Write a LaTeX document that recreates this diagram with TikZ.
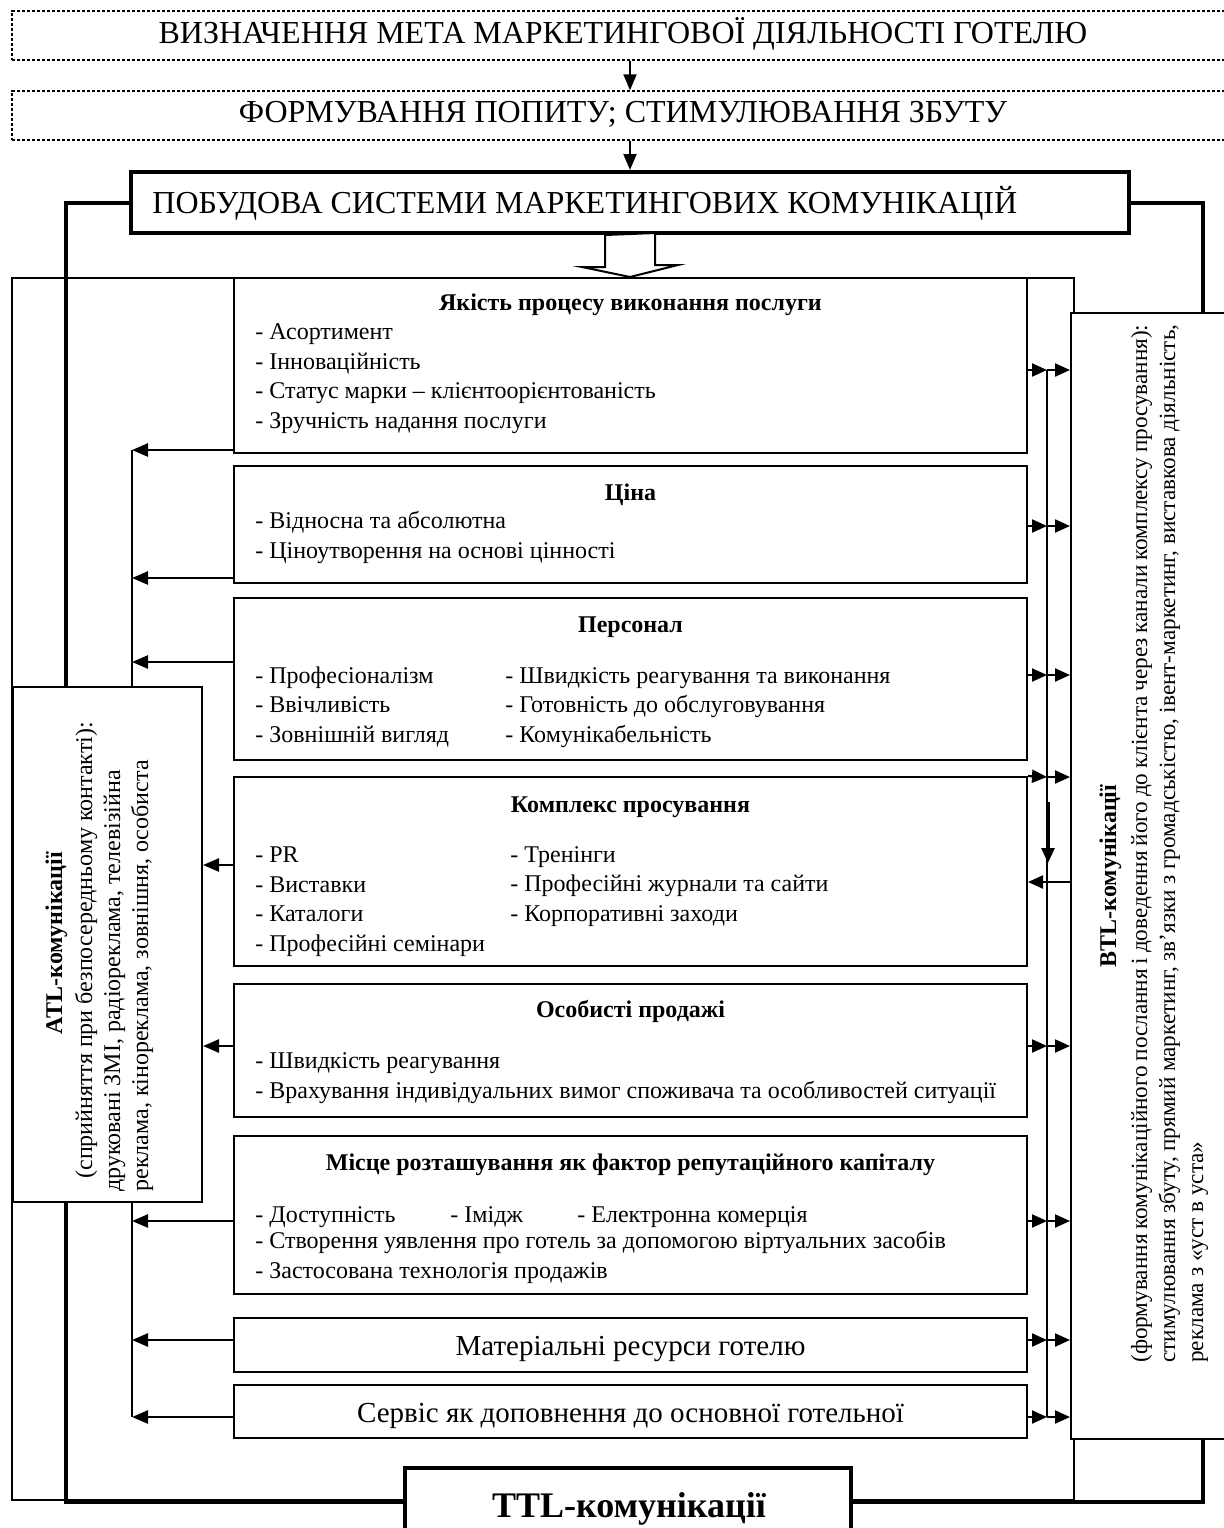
\documentclass[tikz,border=0pt]{standalone}
\usepackage{fontspec}
\setmainfont{Liberation Serif}
\usepackage{tikz}
\usetikzlibrary{arrows.meta,positioning,fit,calc}

\begin{document}
\begin{tikzpicture}[
  x=0.5pt, y=-0.5pt,
  font=\fontsize{12}{14.7}\selectfont,
  dbox/.style={draw, dash pattern=on 1.6pt off 0.9pt, line width=0.7pt, inner sep=0pt},
  mbox/.style={draw, line width=2pt, fill=white, inner sep=0pt},
  cbox/.style={draw, line width=1pt, fill=white, inner sep=0pt},
  hd/.style={font=\fontsize{12}{14.7}\selectfont\bfseries, anchor=base, inner sep=0pt},
  itm/.style={anchor=base west, align=left, inner sep=0pt},
  big/.style={font=\fontsize{16}{19}\selectfont, anchor=base, inner sep=0pt},
  mid/.style={font=\fontsize{14.5}{17}\selectfont, anchor=base, inner sep=0pt},
  frame/.style={line width=1pt},
  heavy/.style={line width=2pt},
  arr/.style={-{Triangle[length=8pt,width=6.5pt]}, line width=1.3pt},
  arrs/.style={-{Triangle[length=7.5pt,width=6.5pt]}, line width=1.1pt},
  hollow/.style={draw, line width=1pt, fill=white}
]
\useasboundingbox (0,0) rectangle (1224,1528);

% thin outer frame
\draw[frame] (12,278) rectangle (1074,1500);

% top chain
\node[dbox, fit={(12,11) (1234,60)}] (goal) {};
\node[big] (goal-t) at (623,43) {ВИЗНАЧЕННЯ МЕТА МАРКЕТИНГОВОЇ ДІЯЛЬНОСТІ ГОТЕЛЮ};
\node[dbox, fit={(12,91) (1234,140)}] (demand) {};
\node[big] (demand-t) at (623,122) {ФОРМУВАННЯ ПОПИТУ; СТИМУЛЮВАННЯ ЗБУТУ};
\node[mbox, fit={(131,172) (1129,233)}] (pobud) {};
\node[big, anchor=base west] (pobud-t) at (152,213) {ПОБУДОВА СИСТЕМИ МАРКЕТИНГОВИХ КОМУНІКАЦІЙ};
\node[mbox, fit={(405,1468) (851,1536)}] (ttl) {};
\node[hd, font=\fontsize{18}{21}\selectfont\bfseries] (ttl-t) at (629,1517) {TTL-комунікації};

\draw[arr, line width=1pt] (goal.south -| pobud.north) -- (demand.north -| pobud.north);
\draw[arr, line width=1pt] (demand.south -| pobud.north) -- (pobud.north);

% heavy loop round the scheme
\coordinate (fl) at (66,800);
\coordinate (fr) at (1203,800);
\draw[heavy] (pobud.west) -| (fl) |- (ttl.west);
\draw[heavy] (pobud.east) -| (fr) |- (ttl.east);

% content blocks
\node[cbox, fit={(234,278) (1027,453)}] (q1) {};
\node[cbox, fit={(234,466) (1027,583)}] (q2) {};
\node[cbox, fit={(234,598) (1027,760)}] (q3) {};
\node[cbox, fit={(234,777) (1027,966)}] (q4) {};
\node[cbox, fit={(234,984) (1027,1117)}] (q5) {};
\node[cbox, fit={(234,1136) (1027,1294)}] (q6) {};
\node[cbox, fit={(234,1318) (1027,1372)}] (q7) {};
\node[cbox, fit={(234,1385) (1027,1438)}] (q8) {};

\draw[hollow] ($(pobud.south)+(-25,0)$) -- ++(0,32) -- ++(-23,0) -- (q1.north -| pobud.south)
  -- ++(48,-12) -- ++(-23,0) -- ++(0,-32) -- cycle;

% multi-line lists sit on the baseline of their last line
\node[hd] (q1-h) at (630.5,310) {Якість процесу виконання послуги};
\node[itm] (q1-a) at (255,428) {- Асортимент\\- Інноваційність\\- Статус марки -- клієнтоорієнтованість\\- Зручність надання послуги};
\node[hd] (q2-h) at (630.5,500) {Ціна};
\node[itm] (q2-a) at (255,558) {- Відносна та абсолютна\\- Ціноутворення на основі цінності};
\node[hd] (q3-h) at (630.5,632) {Персонал};
\node[itm] (q3-a) at (255,742) {- Професіоналізм\\- Ввічливість\\- Зовнішній вигляд};
\node[itm] (q3-b) at (505,742) {- Швидкість реагування та виконання\\- Готовність до обслуговування\\- Комунікабельність};
\node[hd] (q4-h) at (630.5,812) {Комплекс просування};
\node[itm] (q4-a) at (255,951) {- PR\\- Виставки\\- Каталоги\\- Професійні семінари};
\node[itm] (q4-b) at (510,921) {- Тренінги\\- Професійні журнали та сайти\\- Корпоративні заходи};
\node[hd] (q5-h) at (630.5,1017) {Особисті продажі};
\node[itm] (q5-a) at (255,1098) {- Швидкість реагування\\- Врахування індивідуальних вимог споживача та особливостей ситуації};
\node[hd] (q6-h) at (630.5,1170) {Місце розташування як фактор репутаційного капіталу};
\node[itm] (q6-a) at (255,1222) {- Доступність};
\node[itm] (q6-b) at (450,1222) {- Імідж};
\node[itm] (q6-c) at (577,1222) {- Електронна комерція};
\node[itm] (q6-d) at (255,1278) {- Створення уявлення про готель за допомогою віртуальних засобів\\- Застосована технологія продажів};
\node[mid] (q7-t) at (630.5,1355) {Матеріальні ресурси готелю};
\node[mid] (q8-t) at (630.5,1422) {Сервіс як доповнення до основної готельної};

% buses
\coordinate (a1) at (132,450);  \coordinate (b1) at (1047,370);
\coordinate (a2) at (132,578);  \coordinate (b2) at (1047,526);
\coordinate (a3) at (132,662);  \coordinate (b3) at (1047,675);
\coordinate (a4) at (132,865);  \coordinate (b4) at (1047,777);
\coordinate (a5) at (132,1046); \coordinate (b5) at (1047,1046);
\coordinate (a6) at (132,1221); \coordinate (b6) at (1047,1221);
\coordinate (a7) at (132,1340); \coordinate (b7) at (1047,1340);
\coordinate (a8) at (132,1417); \coordinate (b8) at (1047,1417);
\draw[frame] (a1) -- (a8);
\draw[frame] (b1) -- (b8);

% side blocks
\node[cbox, fit={(13,687) (202,1202)}] (atl) {};
\node[hd, rotate=90] (atl-h) at (62,943) {ATL-комунікації};
\node[itm, rotate=90] (atl-1) at (92,1179) {(сприйняття при безпосередньому контакті):};
\node[itm, rotate=90] (atl-2) at (120,1192) {друковані ЗМІ, радіореклама, телевізійна};
\node[itm, rotate=90] (atl-3) at (148,1192) {реклама, кінореклама, зовнішня, особиста};

\node[cbox, fit={(1071,313) (1240,1439)}] (btl) {};
\node[hd, rotate=90] (btl-h) at (1116,876) {BTL-комунікації};
\node[itm, rotate=90, font=\fontsize{11.6}{14}\selectfont] (btl-1) at (1147,1363) {\makebox[519pt][s]{(формування комунікаційного послання і доведення його до клієнта через канали комплексу просування):}};
\node[itm, rotate=90, font=\fontsize{11.6}{14}\selectfont] (btl-2) at (1175,1363) {\makebox[519pt][s]{стимулювання збуту, прямий маркетинг, зв’язки з громадськістю, івент-маркетинг, виставкова діяльність,}};
\node[itm, rotate=90, font=\fontsize{11.6}{14}\selectfont] (btl-3) at (1203,1363) {реклама з «уст в уста»};

% arrows to ATL (bus or block)
\draw[arr] (q1.west |- a1) -- (a1);
\draw[arr] (q2.west |- a2) -- (a2);
\draw[arr] (q3.west |- a3) -- (a3);
\draw[arr] (q4.west |- a4) -- (atl.east |- a4);
\draw[arr] (q5.west |- a5) -- (atl.east |- a5);
\draw[arr] (q6.west |- a6) -- (a6);
\draw[arr] (q7.west |- a7) -- (a7);
\draw[arr] (q8.west |- a8) -- (a8);

% arrows to BTL bus
\draw[arrs] (q1.east |- b1) -- (b1); \draw[arrs] (b1) -- (btl.west |- b1);
\draw[arrs] (q2.east |- b2) -- (b2); \draw[arrs] (b2) -- (btl.west |- b2);
\draw[arrs] (q3.east |- b3) -- (b3); \draw[arrs] (b3) -- (btl.west |- b3);
\draw[arrs] (q4.north east) -- (b4); \draw[arrs] (b4) -- (btl.west |- b4);
\draw[arrs] (q5.east |- b5) -- (b5); \draw[arrs] (b5) -- (btl.west |- b5);
\draw[arrs] (q6.east |- b6) -- (b6); \draw[arrs] (b6) -- (btl.west |- b6);
\draw[arrs] (q7.east |- b7) -- (b7); \draw[arrs] (b7) -- (btl.west |- b7);
\draw[arrs] (q8.east |- b8) -- (b8); \draw[arrs] (b8) -- (btl.west |- b8);

% feedback from BTL into promotion
\coordinate (d1) at (1048,802);
\coordinate (d2) at (1048,863);
\coordinate (rv) at (1047,882);
\draw[arrs, line width=1.5pt] (d1) -- (d2);
\draw[arrs] (btl.west |- rv) -- (q4.east |- rv);
\end{tikzpicture}
\end{document}
